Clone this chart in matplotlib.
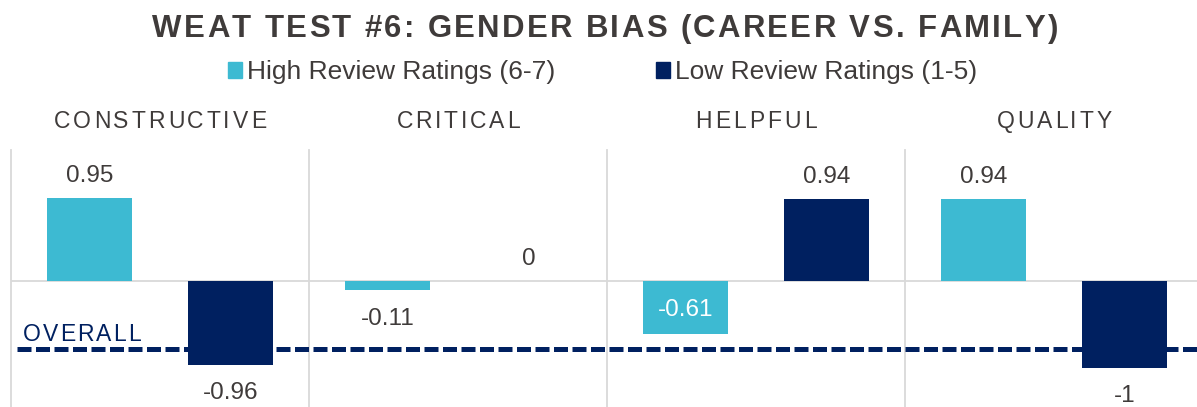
import numpy as np
import matplotlib.pyplot as plt
from matplotlib.patches import Patch
from matplotlib.transforms import IdentityTransform

plt.rcParams['font.family'] = ['Liberation Sans', 'DejaVu Sans']

# Data
categories = ['CONSTRUCTIVE', 'CRITICAL', 'HELPFUL', 'QUALITY']
series_names = ['High Review Ratings (6-7)', 'Low Review Ratings (1-5)']
high_values = [0.95, -0.11, -0.61, 0.94]
low_values = [-0.96, 0.0, 0.94, -1.0]
overall_value = -0.78
title = 'WEAT TEST #6: GENDER BIAS (CAREER VS. FAMILY)'

# Colours
HIGH_COLOR = '#3DBAD2'
LOW_COLOR = '#002060'
TEXT_COLOR = '#3F3B3A'
GRID_COLOR = '#D9D9D9'

W, H = 1197, 407
fig = plt.figure(figsize=(W / 100, H / 100), dpi=100)
ax = fig.add_axes([11 / W, (H - 411.65) / H, 1192 / W, 261.9 / H])


def spaced_text(cx, baseline, s, width, size, color, weight='normal'):
    # letter-spaced text, centred on cx (pixels, top-left origin)
    r = fig.canvas.get_renderer()
    em = size * 100 / 72
    parts = []
    for ch in s:
        t = fig.text(0, 0, ch, fontsize=size, color=color, fontweight=weight,
                     transform=IdentityTransform(), va='baseline', ha='left')
        w = 0.28 * em if ch == ' ' else t.get_window_extent(r).width
        parts.append((t, w))
    gap = (width - sum(w for _, w in parts)) / (len(s) - 1)
    x0 = cx - width / 2
    for t, w in parts:
        t.set_position((x0, H - baseline))
        x0 += w + gap


x = np.arange(len(categories))
bw = 0.285
off = 0.236
ax.bar(x - off, high_values, bw, color=HIGH_COLOR, zorder=3)
ax.bar(x + off, low_values, bw, color=LOW_COLOR, zorder=3)

# grid: panel separators and zero line
for xv in np.arange(-0.5, len(categories), 1.0):
    ax.axvline(xv, color=GRID_COLOR, lw=1.3, zorder=1, clip_on=False)
ax.axhline(0, color=GRID_COLOR, lw=1.3, zorder=1)

# overall dashed line
ax.axhline(overall_value, xmin=0.005, color=LOW_COLOR, lw=3.6,
           linestyle=(0, (2.8, 0.9)), zorder=2)

# value labels
inside_label = (0, 2)
for si, (vals, xs) in enumerate([(high_values, x - off), (low_values, x + off)]):
    for ci, (xp, v) in enumerate(zip(xs, vals)):
        txt = f'{v:g}'
        if (si, ci) == inside_label:
            ax.annotate(txt, (xp, v / 2), xytext=(0, -6.1), textcoords='offset points',
                        ha='center', va='baseline', fontsize=17.5, color='white', zorder=4)
        elif v >= 0:
            ax.annotate(txt, (xp, v), xytext=(0, 11.2), textcoords='offset points',
                        ha='center', va='baseline', fontsize=17.5, color=TEXT_COLOR, zorder=4)
        else:
            ax.annotate(txt, (xp, v), xytext=(0, -24.8), textcoords='offset points',
                        ha='center', va='baseline', fontsize=17.5, color=TEXT_COLOR, zorder=4)

ax.set_xlim(-0.5, len(categories) - 0.5)
ax.set_ylim(-1.5, 1.5)
ax.axis('off')

# title
spaced_text(605, 37.3, title, 906, 22.4, TEXT_COLOR, weight='bold')

# category headers
cat_widths = [212, 123, 121, 115]
for i, (cat, cw) in enumerate(zip(categories, cat_widths)):
    cx = ax.transData.transform((i, 0))[0]
    spaced_text(cx, 128.3, cat, cw, 16.5, TEXT_COLOR)

# overall label
spaced_text(23 + 118 / 2, 341, 'OVERALL', 118, 16.5, LOW_COLOR)

# legend
handles = [Patch(color=HIGH_COLOR), Patch(color=LOW_COLOR)]
fig.legend(handles, series_names, ncol=2, frameon=False, fontsize=19,
           handlelength=0.54, handleheight=0.54, handletextpad=0.2,
           columnspacing=3.8, loc='center', bbox_to_anchor=(602.5 / W, 1 - 72 / H),
           labelcolor=TEXT_COLOR)

fig.savefig('out.png', dpi=100)
